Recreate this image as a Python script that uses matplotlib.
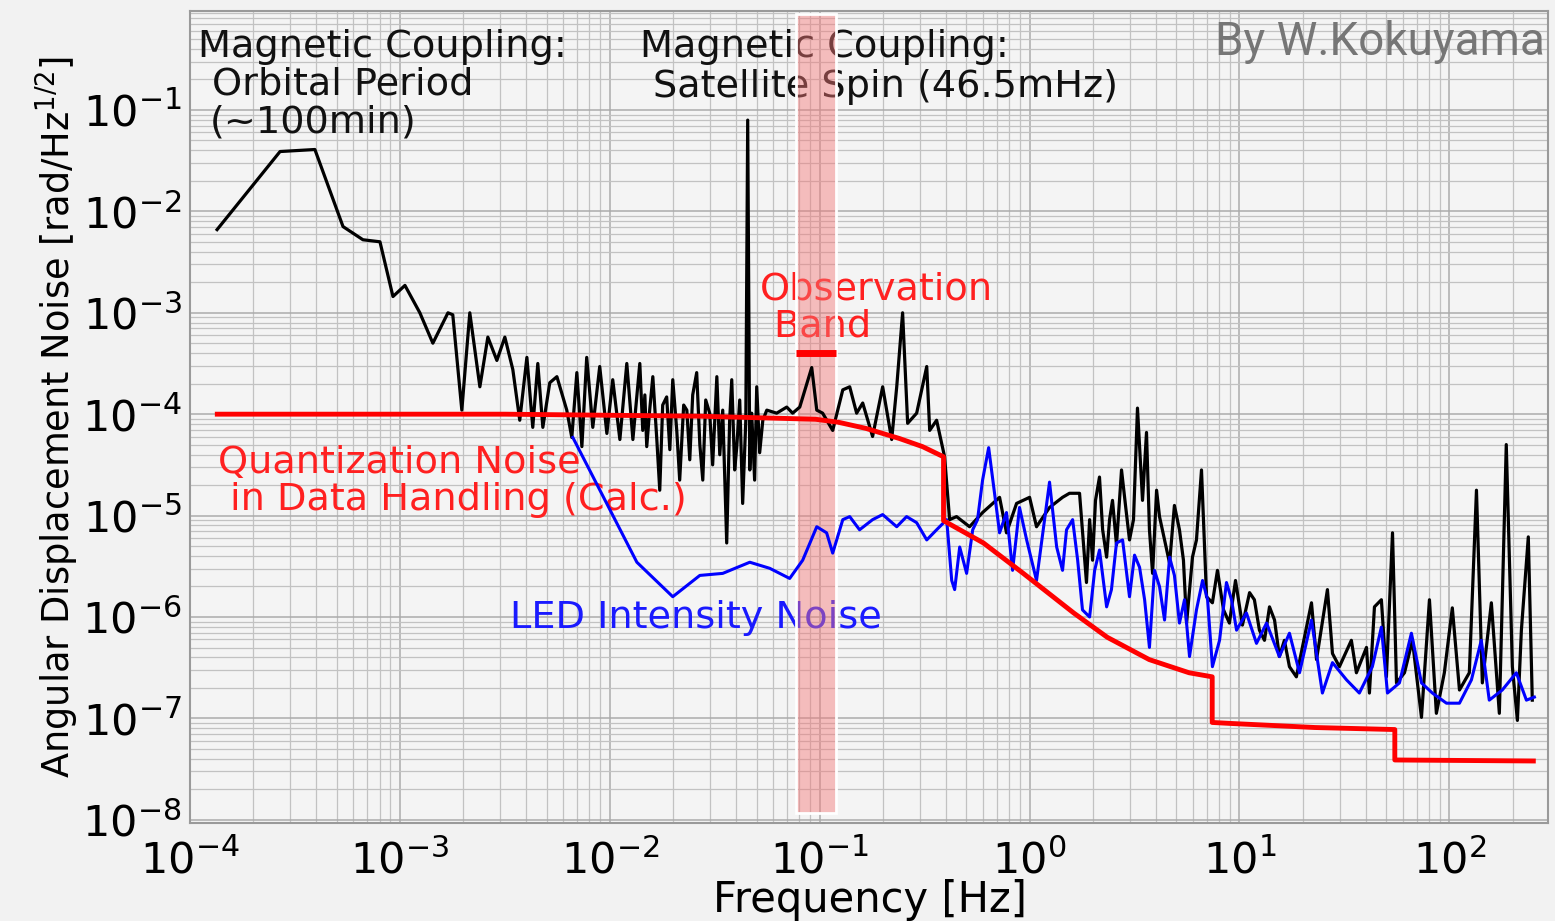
import numpy as np
import matplotlib.pyplot as plt
from matplotlib.ticker import LogLocator

# values, stored as log10(frequency [Hz]) and log10(noise [rad/Hz^1/2])
black_logf = [-3.871, -3.571, -3.405, -3.271, -3.176, -3.095, -3.033, -2.976, -2.905, -2.843,
              -2.771, -2.748, -2.705, -2.667, -2.619, -2.581, -2.538, -2.500, -2.462, -2.429,
              -2.395, -2.367, -2.343, -2.319, -2.286, -2.252, -2.205, -2.181, -2.157, -2.133,
              -2.110, -2.081, -2.048, -2.014, -1.986, -1.952, -1.919, -1.890, -1.857, -1.843,
              -1.833, -1.824, -1.810, -1.795, -1.776, -1.762, -1.748, -1.729, -1.714, -1.700,
              -1.681, -1.667, -1.648, -1.633, -1.619, -1.605, -1.586, -1.571, -1.557, -1.543,
              -1.524, -1.510, -1.490, -1.476, -1.462, -1.443, -1.429, -1.419, -1.405, -1.395,
              -1.381, -1.367, -1.352, -1.343, -1.333, -1.324, -1.310, -1.300, -1.286, -1.271,
              -1.252, -1.205, -1.157, -1.129, -1.095, -1.038, -1.014, -0.986, -0.938, -0.890,
              -0.857, -0.824, -0.795, -0.748, -0.700, -0.657, -0.633, -0.605, -0.581, -0.538,
              -0.490, -0.476, -0.443, -0.405, -0.381, -0.348, -0.286, -0.224, -0.143, -0.110,
              -0.062, 0.000, 0.033, 0.095, 0.157, 0.190, 0.238, 0.271, 0.286, 0.300,
              0.314, 0.333, 0.348, 0.367, 0.381, 0.395, 0.414, 0.438, 0.457, 0.476,
              0.495, 0.514, 0.538, 0.557, 0.571, 0.586, 0.605, 0.619, 0.643, 0.667,
              0.690, 0.714, 0.733, 0.748, 0.776, 0.795, 0.819, 0.843, 0.871, 0.895,
              0.924, 0.952, 0.981, 1.014, 1.048, 1.071, 1.095, 1.119, 1.143, 1.167,
              1.190, 1.214, 1.238, 1.271, 1.343, 1.367, 1.419, 1.443, 1.476, 1.533,
              1.557, 1.605, 1.619, 1.643, 1.676, 1.700, 1.729, 1.748, 1.786, 1.824,
              1.867, 1.905, 1.938, 1.976, 2.014, 2.048, 2.095, 2.129, 2.157, 2.200,
              2.238, 2.271, 2.300, 2.324, 2.343, 2.376, 2.395]
black_logy = [-2.18, -1.41, -1.39, -2.15, -2.28, -2.30, -2.84, -2.73, -3.00, -3.30,
              -3.00, -3.02, -3.96, -3.00, -3.73, -3.24, -3.47, -3.24, -3.56, -4.06,
              -3.44, -4.13, -3.50, -4.13, -3.69, -3.63, -3.96, -4.23, -3.59, -4.32,
              -3.44, -4.13, -3.53, -4.19, -3.66, -4.25, -3.50, -4.25, -3.50, -4.16,
              -3.81, -4.32, -3.96, -3.63, -4.25, -4.75, -3.91, -3.83, -4.35, -3.66,
              -4.16, -4.65, -3.91, -3.96, -4.45, -3.81, -3.59, -4.30, -4.65, -3.86,
              -3.99, -4.50, -3.63, -4.40, -3.96, -5.27, -4.06, -3.66, -4.55, -4.32,
              -3.86, -4.88, -4.06, -1.10, -4.55, -3.99, -4.65, -3.73, -4.38, -4.06,
              -3.96, -3.99, -3.93, -3.99, -3.93, -3.54, -3.96, -3.99, -4.16, -3.76,
              -3.73, -3.99, -3.89, -4.22, -3.73, -4.25, -3.73, -3.00, -4.09, -3.99,
              -3.53, -4.16, -4.06, -4.42, -5.04, -5.01, -5.11, -4.97, -4.82, -5.17,
              -4.88, -4.82, -5.11, -4.92, -4.82, -4.78, -4.78, -5.66, -5.04, -5.44,
              -4.85, -4.62, -5.14, -5.41, -5.04, -4.85, -5.29, -4.55, -4.90, -5.24,
              -5.04, -3.94, -4.85, -4.18, -5.14, -5.57, -4.75, -5.01, -5.24, -5.47,
              -4.90, -5.14, -5.44, -6.06, -5.41, -5.24, -4.55, -5.80, -5.86, -5.54,
              -5.93, -6.06, -5.64, -6.08, -5.76, -5.83, -6.13, -6.23, -5.90, -6.03,
              -6.39, -6.23, -6.49, -6.59, -5.86, -6.42, -5.73, -6.36, -6.49, -6.23,
              -6.55, -6.30, -6.75, -5.90, -5.83, -6.59, -5.17, -6.65, -6.55, -6.23,
              -6.99, -5.83, -6.95, -6.55, -5.91, -6.72, -6.55, -4.75, -6.65, -5.86,
              -6.95, -4.30, -6.49, -7.02, -6.13, -5.21, -6.82]

blue_logf = [-2.176, -1.871, -1.700, -1.571, -1.462, -1.333, -1.238, -1.143, -1.081, -1.014,
             -0.967, -0.938, -0.890, -0.857, -0.810, -0.748, -0.700, -0.633, -0.586, -0.538,
             -0.490, -0.443, -0.395, -0.371, -0.357, -0.333, -0.300, -0.271, -0.248, -0.224,
             -0.195, -0.167, -0.143, -0.110, -0.081, -0.048, -0.014, 0.033, 0.095, 0.129,
             0.157, 0.176, 0.205, 0.229, 0.252, 0.286, 0.310, 0.333, 0.367, 0.390,
             0.414, 0.443, 0.476, 0.500, 0.524, 0.548, 0.571, 0.595, 0.619, 0.643,
             0.667, 0.690, 0.714, 0.738, 0.762, 0.795, 0.824, 0.848, 0.871, 0.905,
             0.938, 0.962, 0.986, 1.033, 1.081, 1.129, 1.190, 1.238, 1.286, 1.343,
             1.395, 1.443, 1.510, 1.571, 1.633, 1.676, 1.705, 1.762, 1.819, 1.867,
             1.919, 1.986, 2.048, 2.105, 2.152, 2.190, 2.252, 2.319, 2.367, 2.405]
blue_logy = [-4.23, -5.46, -5.80, -5.59, -5.57, -5.46, -5.52, -5.62, -5.44, -5.11,
             -5.17, -5.37, -5.04, -5.01, -5.14, -5.04, -4.99, -5.11, -5.01, -5.07,
             -5.24, -5.14, -5.04, -5.64, -5.73, -5.31, -5.57, -5.14, -5.04, -4.65,
             -4.33, -4.78, -5.17, -4.97, -5.54, -4.92, -5.24, -5.64, -4.67, -5.31,
             -5.54, -5.14, -5.04, -5.44, -5.93, -6.00, -5.54, -5.34, -5.90, -5.73,
             -5.27, -5.24, -5.80, -5.39, -5.51, -5.83, -6.30, -5.54, -5.70, -6.03,
             -5.41, -5.59, -6.06, -5.83, -6.39, -5.93, -5.64, -5.83, -6.49, -6.23,
             -5.66, -5.83, -6.13, -5.96, -6.26, -6.06, -6.39, -6.16, -6.55, -6.03,
             -6.75, -6.45, -6.62, -6.75, -6.49, -6.10, -6.75, -6.65, -6.16, -6.65,
             -6.75, -6.85, -6.85, -6.62, -6.23, -6.82, -6.72, -6.55, -6.82, -6.79]

red_logf = [-3.87, -2.50, -1.57, -1.02, -0.91, -0.78, -0.62, -0.51, -0.41, -0.41,
            -0.22, -0.03, 0.21, 0.37, 0.57, 0.76, 0.87, 0.87, 0.96, 1.36,
            1.74, 1.74, 2.40]
red_logy = [-4.00, -4.00, -4.02, -4.05, -4.08, -4.14, -4.24, -4.32, -4.42, -5.05,
            -5.27, -5.57, -5.96, -6.20, -6.42, -6.55, -6.59, -7.04, -7.05, -7.09,
            -7.11, -7.41, -7.42]

x_ticks = [1e-4, 1e-3, 1e-2, 1e-1, 1e0, 1e1, 1e2]
y_ticks = [1e-8, 1e-7, 1e-6, 1e-5, 1e-4, 1e-3, 1e-2, 1e-1]

obs_band = (0.077, 0.12)      # Hz
obs_level = 4.0e-4

f_black, y_black = np.power(10.0, black_logf), np.power(10.0, black_logy)
f_blue, y_blue = np.power(10.0, blue_logf), np.power(10.0, blue_logy)
f_red, y_red = np.power(10.0, red_logf), np.power(10.0, red_logy)

plt.rcParams['font.family'] = 'DejaVu Sans'
plt.rcParams['mathtext.default'] = 'regular'

fig = plt.figure(figsize=(15.55, 9.21), dpi=100, facecolor='#f2f2f2')
ax = fig.add_axes([190 / 1555, 98 / 921, 1358 / 1555, 812 / 921])
ax.set_facecolor('#f4f4f4')
ax.set_xscale('log')
ax.set_yscale('log')
ax.set_xticks(x_ticks)
ax.set_yticks(y_ticks)
ax.set_xlim(1e-4, 295)
ax.set_ylim(9.3e-9, 0.946)

for axis in (ax.xaxis, ax.yaxis):
    axis.set_minor_locator(LogLocator(base=10, subs=np.arange(2, 10), numticks=100))
ax.grid(True, which='major', color='#ababab', lw=1.1)
ax.grid(True, which='minor', color='#c2c2c2', lw=0.9)
ax.tick_params(which='both', length=0, labelsize=31)
ax.tick_params(axis='x', pad=12)
ax.tick_params(axis='y', pad=6)
for s in ax.spines.values():
    s.set_color('#9a9a9a')
    s.set_linewidth(1.5)

# observation band
ax.axvspan(*obs_band, ymin=0.012, ymax=0.996, facecolor='#f57878', alpha=0.45, lw=0, zorder=2.2)
ax.axvspan(*obs_band, ymin=0.012, ymax=0.996, fill=False, edgecolor='white', lw=2, zorder=2.3)

ax.plot(f_black, y_black, color='black', lw=2.3, zorder=3)
ax.plot(f_blue, y_blue, color='#0000ff', lw=2.2, zorder=3.1)
ax.plot(f_red, y_red, color='#ff0000', lw=3.5, zorder=3.2)
ax.plot(obs_band, [obs_level, obs_level], color='#ff0000', lw=5, solid_capstyle='butt', zorder=3.2)

ax.set_xlabel('Frequency [Hz]', fontsize=30)
ax.xaxis.set_label_coords(0.5007, -0.069)
ax.set_ylabel('Angular Displacement Noise [rad/Hz$^{1/2}$]', fontsize=26.5)
ax.yaxis.set_label_coords(-0.08, 0.5)

tf = fig.transFigure
kw = dict(transform=tf, fontsize=27.5, va='baseline', zorder=2.1)
ax.text(0.1273, 0.9381, 'Magnetic Coupling:', color='#111111', **kw)
ax.text(0.1363, 0.8969, 'Orbital Period', color='#111111', **kw)
ax.text(0.1350, 0.8556, '(~100min)', color='#111111', **kw)
ax.text(0.4116, 0.9381, 'Magnetic Coupling:', color='#111111', **kw)
ax.text(0.4199, 0.8947, 'Satellite Spin (46.5mHz)', color='#111111', **kw)
ax.text(0.4887, 0.6743, 'Observation', color='#ff2020', **kw)
ax.text(0.4971, 0.6341, 'Band', color='#ff2020', **kw)
ax.text(0.1402, 0.4864, 'Quantization Noise', color='#ff2020', **kw)
ax.text(0.1479, 0.4463, 'in Data Handling (Calc.)', color='#ff2020', **kw)
ax.text(0.3280, 0.3181, 'LED Intensity Noise', color='#1a1aff', **kw)
ax.text(0.9936, 0.9403, 'By W.Kokuyama', transform=tf, fontsize=33, ha='right', va='baseline',
        color='#767676', family='Roboto', zorder=4)

fig.savefig('out.png', dpi=100, facecolor=fig.get_facecolor())
